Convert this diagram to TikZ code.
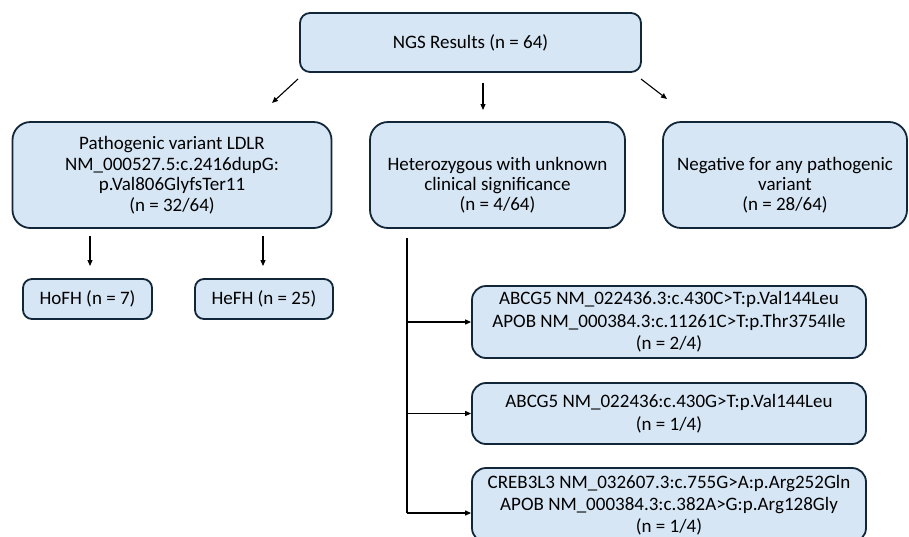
\documentclass[tikz,border=0pt]{standalone}
\usepackage{fontspec}
\setmainfont{Carlito}
\usetikzlibrary{arrows.meta}
\definecolor{boxfill}{HTML}{D6E6F5}
\definecolor{boxline}{HTML}{12263A}
\tikzset{
  box/.style={draw=boxline, fill=boxfill, line width=1.8pt, rounded corners=#1,
    align=center, inner sep=2pt, font=\fontsize{19}{20.5}\selectfont},
  box/.default=14pt,
  txt/.style={align=center, inner sep=0pt, font=\fontsize{19}{20}\selectfont},
  arr/.style={-{Triangle[length=6pt,width=5pt]}, line width=1.1pt, black},
  plain/.style={line width=1.1pt, black}
}
\begin{document}
\begin{tikzpicture}[x=1pt,y=-1pt]
\useasboundingbox (0,0) rectangle (909,536);
\clip (0,0) rectangle (909,536);
% top
\node[box=10pt, minimum width=341pt, minimum height=59pt] (top) at (470.5,42.5) {NGS Results (n = 64)};
% second row
\node[box=18pt, minimum width=319pt, minimum height=106pt] (path) at (172,175)
  {Pathogenic variant LDLR\\NM\_000527.5:c.2416dupG:\\p.Val806GlyfsTer11\\(n = 32/64)};
\node[box=18pt, minimum width=255pt, minimum height=106pt] (het) at (497.5,175) {};
\node[txt] (hett) at ([yshift=-10pt]het.center)
  {Heterozygous with unknown\\clinical significance\\(n = 4/64)};
\node[box=18pt, minimum width=244pt, minimum height=106pt] (neg) at (785,175) {};
\node[txt] (negt) at ([yshift=-10pt]neg.center)
  {Negative for any pathogenic\\variant\\(n = 28/64)};
% HoFH / HeFH
\node[box=9pt, minimum width=129pt, minimum height=40pt] (ho) at (87.5,299) {HoFH (n = 7)};
\node[box=9pt, minimum width=138pt, minimum height=40pt] (he) at (264,299) {HeFH (n = 25)};
% variant boxes
\node[box=14pt, minimum width=394pt, minimum height=72pt, font=\fontsize{19}{22.5}\selectfont] (v1) at (669,322)
  {ABCG5 NM\_022436.3:c.430C>T:p.Val144Leu\\APOB NM\_000384.3:c.11261C>T:p.Thr3754Ile\\(n = 2/4)};
\node[box=14pt, minimum width=394pt, minimum height=61pt, font=\fontsize{19}{22.5}\selectfont] (v2) at (669,413.5)
  {ABCG5 NM\_022436:c.430G>T:p.Val144Leu\\(n = 1/4)};
\node[box=14pt, minimum width=394pt, minimum height=74pt, font=\fontsize{19}{22}\selectfont] (v3) at (669,505)
  {CREB3L3 NM\_032607.3:c.755G>A:p.Arg252Gln\\APOB NM\_000384.3:c.382A>G:p.Arg128Gly\\(n = 1/4)};
% top arrows
\coordinate (l1) at (298,79); \coordinate (l2) at (272,103);
\coordinate (m1) at (483,83); \coordinate (m2) at (483,110);
\coordinate (r1) at (641,79); \coordinate (r2) at (667,99);
\draw[arr] (l1) -- (l2);
\draw[arr] (m1) -- (m2);
\draw[arr] (r1) -- (r2);
% arrows to HoFH / HeFH
\coordinate (a1) at (90,236); \coordinate (a1e) at (90,266);
\coordinate (a2) at (263,236); \coordinate (a2e) at (263,266);
\draw[arr] (a1) -- (a1e);
\draw[arr] (a2) -- (a2e);
% trunk
\coordinate (tt) at (407,238);
\coordinate (tb) at (407,513);
\draw[plain] (tt) -- (tb);
\draw[arr] (tt |- v1.west) -- (v1.west);
\draw[arr] (tt |- v2.west) -- (v2.west);
\draw[arr] (tb) -- (tb -| v3.west);
\end{tikzpicture}
\end{document}
